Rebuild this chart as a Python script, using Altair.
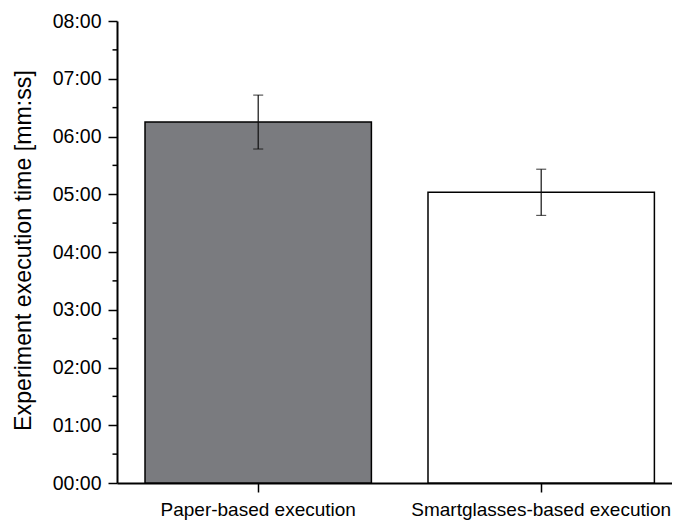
import altair as alt
import pandas as pd

# Data (seconds)
conditions = ["Paper-based execution", "Smartglasses-based execution"]
mean_seconds = [375, 302]
sd_seconds = [28, 24]
bar_fills = ["#7a7b7f", "#ffffff"]
major_ticks = [0, 60, 120, 180, 240, 300, 360, 420, 480]
minor_ticks = [30, 90, 150, 210, 270, 330, 390, 450]

df = pd.DataFrame({
    "condition": conditions,
    "mean": mean_seconds,
    "lo": [m - s for m, s in zip(mean_seconds, sd_seconds)],
    "hi": [m + s for m, s in zip(mean_seconds, sd_seconds)],
})
minor_df = pd.DataFrame({"t": minor_ticks})

FONT = "Liberation Sans"

label_expr = ("(floor(datum.value/60) < 10 ? '0' : '') + floor(datum.value/60) + ':' + "
              "((datum.value % 60) < 10 ? '0' : '') + (datum.value % 60)")

yscale = alt.Scale(domain=[0, 480], nice=False, zero=True)
xscale = alt.Scale(paddingInner=0.2, paddingOuter=0.0806, align=0.614)

x_enc = alt.X("condition:N", sort=conditions, scale=xscale,
              axis=alt.Axis(title=None, labelAngle=0, labelFontSize=19, labelFont=FONT,
                            labelColor="#000000", tickSize=9, tickWidth=1.5, tickColor="#000000",
                            domainColor="#000000", domainWidth=2, labelPadding=8, labelLimit=0))

bars = alt.Chart(df).mark_bar(stroke="#000000", strokeWidth=1.5).encode(
    x=x_enc,
    y=alt.Y("mean:Q", scale=yscale,
            axis=alt.Axis(title="Experiment execution time [mm:ss]", values=major_ticks,
                          labelExpr=label_expr, labelFontSize=19.5, labelFont=FONT,
                          labelColor="#000000", tickSize=9, tickWidth=1.5, tickColor="#000000",
                          domainColor="#000000", domainWidth=2, labelPadding=7,
                          grid=False, titleFont=FONT, titleFontSize=23.2, titleFontWeight="normal",
                          titleColor="#000000", titleX=-87, titleY=229, titleAngle=-90,
                          titleAlign="center", titleBaseline="alphabetic")),
    fill=alt.Fill("condition:N", scale=alt.Scale(domain=conditions, range=bar_fills), legend=None),
)

err = alt.Chart(df).mark_rule(color="#111111", strokeWidth=1.2).encode(
    x=alt.X("condition:N", sort=conditions, scale=xscale),
    y="lo:Q",
    y2="hi:Q",
)
cap_lo = alt.Chart(df).mark_tick(color="#111111", size=10, thickness=1.2).encode(
    x=alt.X("condition:N", sort=conditions, scale=xscale),
    y="lo:Q",
)
cap_hi = alt.Chart(df).mark_tick(color="#111111", size=10, thickness=1.2).encode(
    x=alt.X("condition:N", sort=conditions, scale=xscale),
    y="hi:Q",
)
minor = alt.Chart(minor_df).mark_rule(color="#000000", strokeWidth=1.5).encode(
    y=alt.Y("t:Q", scale=yscale),
    x=alt.value(-4.5),
    x2=alt.value(0),
)

chart = alt.layer(bars, err, cap_lo, cap_hi, minor).properties(
    width=555,
    height=462,
    background="#ffffff",
    autosize=alt.AutoSizeParams(type="none"),
    padding={"left": 109, "top": 13, "right": 0, "bottom": 38},
).configure_view(strokeWidth=0, stroke="transparent").configure_axis(grid=False)

chart.save("out.html", embed_options={"renderer": "svg", "actions": False})
